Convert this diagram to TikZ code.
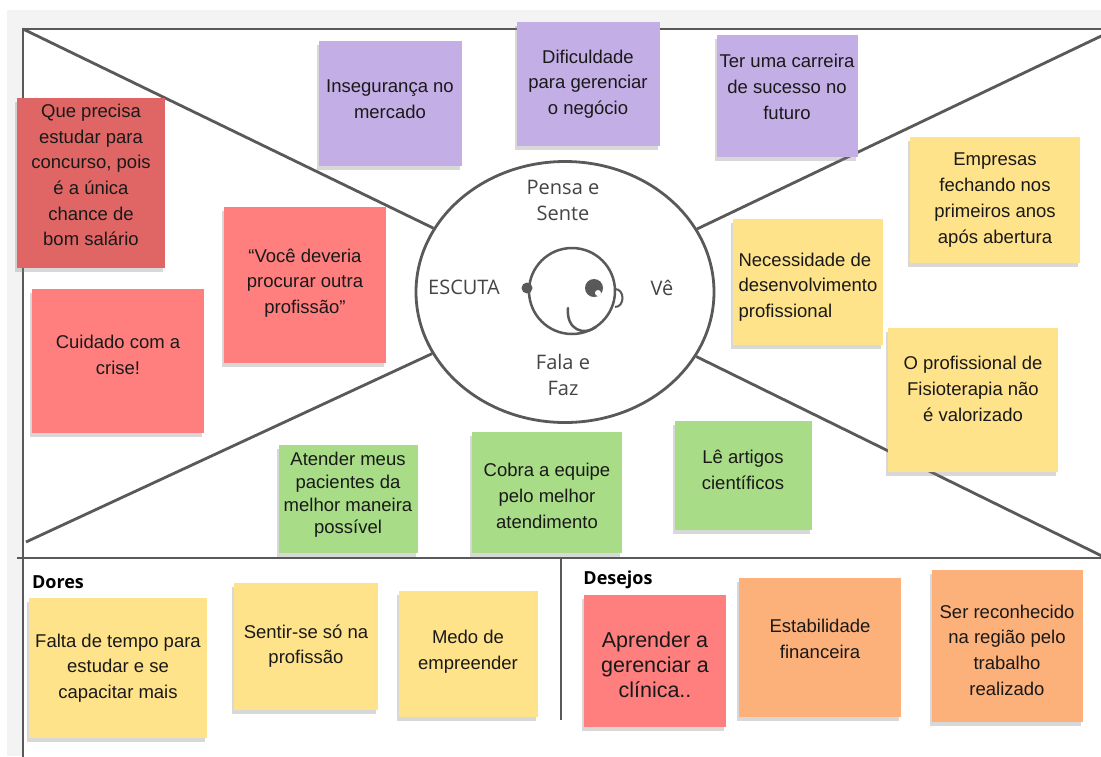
\documentclass[tikz,border=0pt]{standalone}
\usepackage{fontspec}
\setmainfont{Liberation Sans}
\newfontfamily\handfont{Open Sans}
\usetikzlibrary{shapes.geometric,shadows}

\definecolor{bggray}{HTML}{F3F3F3}
\definecolor{linegray}{HTML}{595959}
\definecolor{handgray}{HTML}{444444}
\definecolor{notepurple}{HTML}{C4AEE6}
\definecolor{noteyellow}{HTML}{FFE38A}
\definecolor{notered}{HTML}{FF7F7F}
\definecolor{notedarkred}{HTML}{E06666}
\definecolor{notegreen}{HTML}{A8DC86}
\definecolor{noteorange}{HTML}{FCB07A}

\tikzset{
  frameline/.style={draw=linegray,line width=2.8pt},
  sticky/.style={fill=#1,inner sep=0pt,
    drop shadow={shadow xshift=-2pt,shadow yshift=-4pt,opacity=0.3}},
  notetext/.style={inner sep=0pt,align=center,text=black!90,
    font=\fontsize{18.5}{25.7}\selectfont},
  hand/.style={text=handgray,align=center,font=\handfont\fontsize{20}{26}\selectfont},
  title/.style={text=black,font=\handfont\bfseries\fontsize{18}{22}\selectfont},
}

\begin{document}
\begin{tikzpicture}[x=1pt,y=-1pt]
    \useasboundingbox (0,0) rectangle (1101,756);
    \clip (0,0) rectangle (1101,756);
    \fill[bggray] (7,10) rectangle (1101,756);
    \fill[white] (23,29) rectangle (1120,760);

    \coordinate (tl) at (23,29);
    \coordinate (tr) at (1118,28);
    \coordinate (bl) at (26,542);
    \coordinate (br) at (1108,559);
    \node[shape=ellipse,frameline,fill=white,minimum width=298pt,minimum height=261pt] (mind) at (565,292) {};
    \path[frameline] (tl) edge (mind) (tr) edge (mind) (bl) edge (mind) (br) edge (mind);
    \draw[frameline] (1120,29) -- (tl) -- (23,760);
    \draw[frameline] (17,558) -- (1120,558);
    \draw[frameline] (561,558) -- (561,720);

    \node[shape=circle,draw=linegray,line width=2.5pt,minimum size=86pt,inner sep=0pt] (face) at (572,291) {};
    \fill[linegray] (527,288) circle (5.5pt);
    \draw[linegray,line width=2pt] (615,289) .. controls (625,289) and (625,307) .. (615,307);
    \fill[linegray] (594,288) circle (9pt);
    \fill[white] (598,293) circle (3pt);
    \draw[linegray,line width=2.5pt,line cap=round] (568,308) .. controls (566,330) and (584,336) .. (596,327);

    \node[hand] (pensa) at (563,200) {Pensa e\\Sente};
    \node[hand] (escuta) at (464,287) {ESCUTA};
    \node[hand] (ve) at (662,288) {Vê};
    \node[hand] (fala) at (563,375) {Fala e\\Faz};
    \node[title] (dores) at (58,582) {Dores};
    \node[title] (desejos) at (618,580) {Desejos};

    \node[sticky=notedarkred,minimum width=148pt,minimum height=170pt,
      label={[notetext,yshift=8pt]center:Que precisa\\estudar para\\concurso, pois\\é a única\\chance de\\bom salário}] (quePrecisa) at (91,183) {};
    \node[sticky=notepurple,minimum width=143pt,minimum height=125pt,
      label={[notetext,yshift=4pt]center:Insegurança no\\mercado}] (inseguranca) at (390,103) {};
    \node[sticky=notepurple,minimum width=143pt,minimum height=124pt,
      label={[notetext]center:Dificuldade\\para gerenciar\\o negócio}] (dificuldade) at (588,84) {};
    \node[sticky=notepurple,minimum width=141pt,minimum height=122pt,
      label={[notetext,yshift=9pt]center:Ter uma carreira\\de sucesso no\\futuro}] (carreira) at (787,96) {};
    \node[sticky=noteyellow,minimum width=170pt,minimum height=126pt,
      label={[notetext]center:Empresas\\fechando nos\\primeiros anos\\após abertura}] (empresas) at (995,200) {};
    \node[sticky=noteyellow,minimum width=150pt,minimum height=126pt,
      label={[notetext,align=left,yshift=-5pt]center:Necessidade de\\desenvolvimento\\profissional}] (necessidade) at (808,282) {};
    \node[sticky=noteyellow,minimum width=170pt,minimum height=144pt,
      label={[notetext,yshift=11pt]center:O profissional de\\Fisioterapia não\\é valorizado}] (desvalor) at (973,400) {};
    \node[sticky=notered,minimum width=162pt,minimum height=156pt,
      label={[notetext,yshift=2pt]center:“Você deveria\\procurar outra\\profissão”}] (outraProf) at (305,285) {};
    \node[sticky=notered,minimum width=172pt,minimum height=144pt,
      label={[notetext,yshift=6pt]center:Cuidado com a\\crise!}] (crise) at (118,361) {};
    \node[sticky=notegreen,minimum width=139pt,minimum height=108pt,
      label={[notetext,font=\fontsize{18.5}{22.7}\selectfont,yshift=4pt]center:Atender meus\\pacientes da\\melhor maneira\\possível}] (atender) at (348,499) {};
    \node[sticky=notegreen,minimum width=150pt,minimum height=121pt,
      label={[notetext,yshift=-4pt]center:Cobra a equipe\\pelo melhor\\atendimento}] (cobra) at (547,492) {};
    \node[sticky=notegreen,minimum width=137pt,minimum height=109pt,
      label={[notetext,yshift=5pt]center:Lê artigos\\científicos}] (artigos) at (743,475) {};

    \node[sticky=noteyellow,minimum width=178pt,minimum height=140pt,
      label={[notetext]center:Falta de tempo para\\estudar e se\\capacitar mais}] (tempo) at (118,668) {};
    \node[sticky=noteyellow,minimum width=144pt,minimum height=127pt,
      label={[notetext]center:Sentir-se só na\\profissão}] (sozinho) at (306,646) {};
    \node[sticky=noteyellow,minimum width=139pt,minimum height=126pt,
      label={[notetext,yshift=2pt]center:Medo de\\empreender}] (medo) at (468,654) {};
    \node[sticky=notered,minimum width=142pt,minimum height=132pt,
      label={[notetext,font=\fontsize{21.5}{25}\selectfont,yshift=-4pt]center:Aprender a\\gerenciar a\\clínica..}] (clinica) at (655,661) {};
    \node[sticky=noteorange,minimum width=162pt,minimum height=139pt,
      label={[notetext,yshift=8pt]center:Estabilidade\\financeira}] (estabilidade) at (820,647) {};
    \node[sticky=noteorange,minimum width=151pt,minimum height=152pt,
      label={[notetext,yshift=-4pt]center:Ser reconhecido\\na região pelo\\trabalho\\realizado}] (reconhecido) at (1007,646) {};
\end{tikzpicture}
\end{document}
